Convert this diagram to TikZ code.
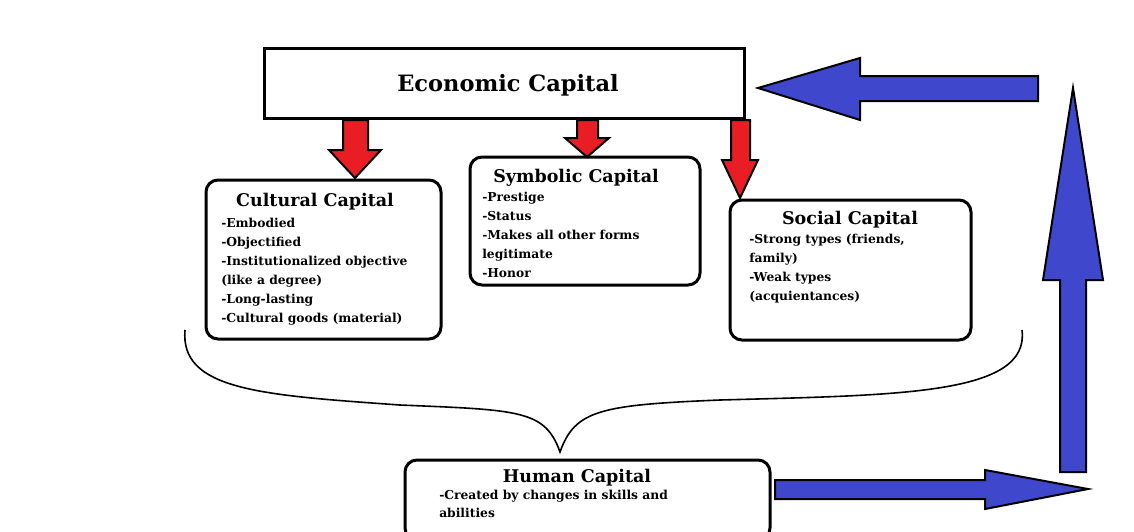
\documentclass[tikz,border=0pt]{standalone}
\usepackage{fontspec}
\setmainfont{DejaVu Serif}
\definecolor{redA}{RGB}{232,30,36}
\definecolor{blueA}{RGB}{63,72,204}
\begin{document}
\begin{tikzpicture}[x=1pt,y=-1pt,line width=2.5pt,
 box/.style={draw,rounded corners=12pt,line width=3pt},
 ttl/.style={font=\bfseries\fontsize{17.5}{19}\selectfont},
 bl/.style={font=\bfseries\fontsize{12.3}{19}\selectfont,align=left,anchor=north west,inner sep=0pt},
 red/.style={draw,fill=redA,line width=2pt},
 blue/.style={draw,fill=blueA,line width=2pt}]
\useasboundingbox (0,0) rectangle (1134,531);
% boxes
\draw[line width=3pt] (264,48) rectangle (744,118);
\node[font=\bfseries\fontsize{22.5}{24}\selectfont] (eco) at (508,85) {Economic Capital};
\draw[box] (206,180) rectangle (441,339);
\node[ttl] (cul) at (315,202) {Cultural Capital};
\node[bl] (culb) at (220,217) {-Embodied\\-Objectified\\-Institutionalized objective\\(like a degree)\\-Long-lasting\\-Cultural goods (material)};
\draw[box] (470,157) rectangle (700,285);
\node[ttl] (sym) at (576,178) {Symbolic Capital};
\node[bl] (symb) at (481,191) {-Prestige\\-Status\\-Makes all other forms\\legitimate\\-Honor};
\draw[box] (730,200) rectangle (971,340);
\node[ttl] (soc) at (850,220) {Social Capital};
\node[bl] (socb) at (748,233) {-Strong types (friends,\\family)\\-Weak types\\(acquientances)};
\draw[box] (405,460) rectangle (770,540);
\node[ttl] (hum) at (577,478) {Human Capital};
\node[bl,font=\bfseries\fontsize{12.3}{18}\selectfont] (humb) at (438,489) {-Created by changes in skills and\\abilities};
% red arrows
\draw[red] (343,120)--(368,120)--(368,150)--(381,150)--(355,178)--(329,150)--(343,150)--cycle;
\draw[red] (577,120)--(598,120)--(598,138)--(609,138)--(587,157)--(565,138)--(577,138)--cycle;
\draw[red] (731,120)--(750,120)--(750,160)--(758,160)--(740,198)--(722,160)--(731,160)--cycle;
% brace
\draw[line width=1.6pt] (185,330) .. controls (180,390) and (260,395) .. (400,405)
  .. controls (520,410) and (545,410) .. (560,452)
  .. controls (575,410) and (600,405) .. (720,400)
  .. controls (900,395) and (1030,395) .. (1022,330);
% blue arrows
\draw[blue] (775,480)--(985,480)--(985,470)--(1088,489)--(985,509)--(985,499)--(775,499)--cycle;
\draw[blue] (1060,472)--(1060,280)--(1043,280)--(1073,88)--(1103,280)--(1086,280)--(1086,472)--cycle;
\draw[blue] (1038,76)--(860,76)--(860,58)--(758,88)--(860,120)--(860,101)--(1038,101)--cycle;
\end{tikzpicture}
\end{document}
